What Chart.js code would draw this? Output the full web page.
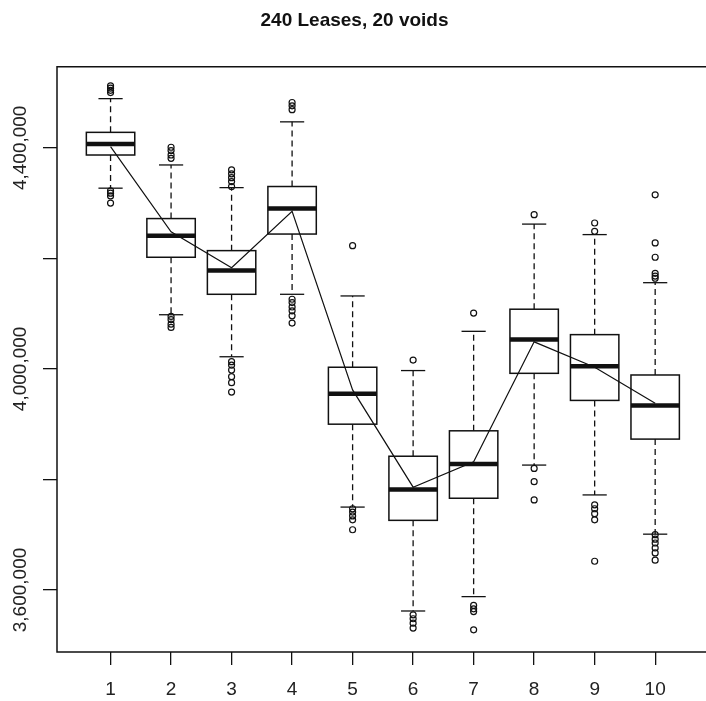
<!DOCTYPE html>
<html>
<head>
<meta charset="utf-8">
<script src="https://cdn.jsdelivr.net/npm/chart.js@4.4.0/dist/chart.umd.min.js"></script>
<style>
  html, body { margin: 0; padding: 0; background: #fff; overflow: hidden; }
  canvas { display: block; }
</style>
</head>
<body>
<canvas id="myChart" width="706" height="701"></canvas>
<script>
// one box per group
const groups = [1, 2, 3, 4, 5, 6, 7, 8, 9, 10];
const lowerWhisker = [4327000, 4098000, 4022000, 4135000, 3750000, 3562000, 3588000, 3826000, 3772000, 3701000];
const q1 = [4387000, 4202000, 4135000, 4244000, 3900000, 3726000, 3766000, 3992000, 3943000, 3873000];
const medians = [4407000, 4241000, 4178000, 4290000, 3955000, 3782000, 3828000, 4053000, 4005000, 3934000];
const q3 = [4428000, 4272000, 4214000, 4330000, 4003000, 3842000, 3888000, 4108000, 4062000, 3989000];
const upperWhisker = [4489000, 4369000, 4328000, 4447000, 4132000, 3997000, 4068000, 4262000, 4243000, 4156000];
const means = [4402000, 4248000, 4183000, 4285000, 3962000, 3786000, 3832000, 4049000, 4003000, 3938000];
const outliers = [
  [4512000, 4508000, 4504000, 4500000, 4322000, 4318000, 4313000, 4300000],
  [4401000, 4395000, 4387000, 4381000, 4095000, 4089000, 4081000, 4075000],
  [4360000, 4353000, 4346000, 4339000, 4330000, 4013000, 4007000, 3998000, 3986000, 3975000, 3958000],
  [4482000, 4476000, 4469000, 4126000, 4120000, 4112000, 4105000, 4096000, 4083000],
  [4223000, 3747000, 3741000, 3734000, 3727000, 3709000],
  [4016000, 3555000, 3548000, 3540000, 3531000],
  [4101000, 3572000, 3566000, 3561000, 3528000],
  [4279000, 3820000, 3796000, 3763000],
  [4264000, 4249000, 3754000, 3747000, 3738000, 3727000, 3652000],
  [4315000, 4228000, 4202000, 4173000, 4168000, 4164000, 3700000, 3692000, 3685000, 3676000, 3667000, 3654000]
];
const yTicks = [3600000, 3800000, 4000000, 4200000, 4400000];
const yTickLabels = ["3,600,000", "", "4,000,000", "", "4,400,000"];

const ink = "#111";
const textColor = "#222";
const labelFont = { family: "'Liberation Sans', Arial, sans-serif", size: 19 };

const outlierPoints = [];
outliers.forEach((list, i) => {
  list.forEach(v => outlierPoints.push({ x: groups[i], y: v }));
});

// plot frame (right side runs past the edge of the picture)
const framePlugin = {
  id: "frame",
  beforeDatasetsDraw(chart) {
    const { ctx, chartArea: a } = chart;
    ctx.save();
    ctx.strokeStyle = ink;
    ctx.lineWidth = 1.5;
    ctx.beginPath();
    ctx.moveTo(a.right + 10, a.top);
    ctx.lineTo(a.left, a.top);
    ctx.lineTo(a.left, a.bottom);
    ctx.lineTo(a.right + 10, a.bottom);
    ctx.stroke();
    ctx.restore();
  }
};

// boxes, whiskers, caps, medians
const boxPlugin = {
  id: "boxes",
  beforeDatasetsDraw(chart) {
    const { ctx, scales: { x, y } } = chart;
    const line = (x1, y1, x2, y2) => {
      ctx.beginPath();
      ctx.moveTo(x1, y1);
      ctx.lineTo(x2, y2);
      ctx.stroke();
    };
    ctx.save();
    ctx.strokeStyle = ink;
    groups.forEach((g, i) => {
      const cx = x.getPixelForValue(g);
      const left = x.getPixelForValue(g - 0.4);
      const right = x.getPixelForValue(g + 0.4);
      const capL = x.getPixelForValue(g - 0.2);
      const capR = x.getPixelForValue(g + 0.2);
      const yLo = y.getPixelForValue(lowerWhisker[i]);
      const yQ1 = y.getPixelForValue(q1[i]);
      const yMed = y.getPixelForValue(medians[i]);
      const yQ3 = y.getPixelForValue(q3[i]);
      const yHi = y.getPixelForValue(upperWhisker[i]);

      ctx.lineWidth = 1.3;
      ctx.setLineDash([6, 4]);
      line(cx, yQ3, cx, yHi);
      line(cx, yQ1, cx, yLo);
      ctx.setLineDash([]);
      line(capL, yHi, capR, yHi);
      line(capL, yLo, capR, yLo);

      ctx.lineWidth = 1.5;
      ctx.strokeRect(left, yQ3, right - left, yQ1 - yQ3);
      ctx.lineWidth = 4.5;
      line(left, yMed, right, yMed);
    });
    ctx.restore();
  }
};

// rotated y tick labels
const yLabelPlugin = {
  id: "yLabels",
  afterDraw(chart) {
    const { ctx, scales: { y } } = chart;
    ctx.save();
    ctx.fillStyle = textColor;
    ctx.font = labelFont.size + "px " + labelFont.family;
    ctx.textAlign = "center";
    ctx.textBaseline = "middle";
    yTicks.forEach((v, i) => {
      if (!yTickLabels[i]) return;
      ctx.save();
      ctx.translate(21, y.getPixelForValue(v));
      ctx.rotate(-Math.PI / 2);
      ctx.fillText(yTickLabels[i], 0, 0);
      ctx.restore();
    });
    ctx.restore();
  }
};

const ctx = document.getElementById("myChart").getContext("2d");
new Chart(ctx, {
  type: "scatter",
  data: {
    datasets: [
      {
        data: groups.map((g, i) => ({ x: g, y: means[i] })),
        showLine: true,
        borderColor: ink,
        borderWidth: 1.2,
        pointRadius: 0,
        tension: 0
      },
      {
        data: outlierPoints,
        pointStyle: "circle",
        pointRadius: 3,
        borderColor: ink,
        backgroundColor: "rgba(0,0,0,0)",
        borderWidth: 1.2
      }
    ]
  },
  options: {
    responsive: false,
    animation: false,
    layout: { padding: { left: 3, right: 0, top: 0, bottom: 0 } },
    plugins: {
      legend: { display: false },
      tooltip: { enabled: false },
      title: {
        display: true,
        text: "240 Leases, 20 voids",
        color: ink,
        font: { family: "'Liberation Sans', Arial, sans-serif", size: 19, weight: "bold" },
        padding: { top: 9, bottom: 35 }
      }
    },
    scales: {
      x: {
        type: "linear",
        min: 0.115,
        max: 10.754,
        afterBuildTicks: s => { s.ticks = groups.map(v => ({ value: v })); },
        afterFit: s => {
          s.height = 49;
          s.paddingLeft = 0;
          s.paddingRight = 0;
        },
        grid: { drawOnChartArea: false, drawTicks: true, tickLength: 13, color: ink, lineWidth: 1.3 },
        border: { display: false },
        ticks: {
          color: textColor,
          font: labelFont,
          padding: 13,
          maxRotation: 0,
          autoSkip: false,
          callback: v => String(v)
        }
      },
      y: {
        type: "linear",
        min: 3487800,
        max: 4546600,
        afterBuildTicks: s => { s.ticks = yTicks.map(v => ({ value: v })); },
        afterFit: s => { s.width = 54; },
        grid: { drawOnChartArea: false, drawTicks: true, tickLength: 14, color: ink, lineWidth: 1.3 },
        border: { display: false },
        ticks: { display: false }
      }
    }
  },
  plugins: [framePlugin, boxPlugin, yLabelPlugin]
});
</script>
</body>
</html>
